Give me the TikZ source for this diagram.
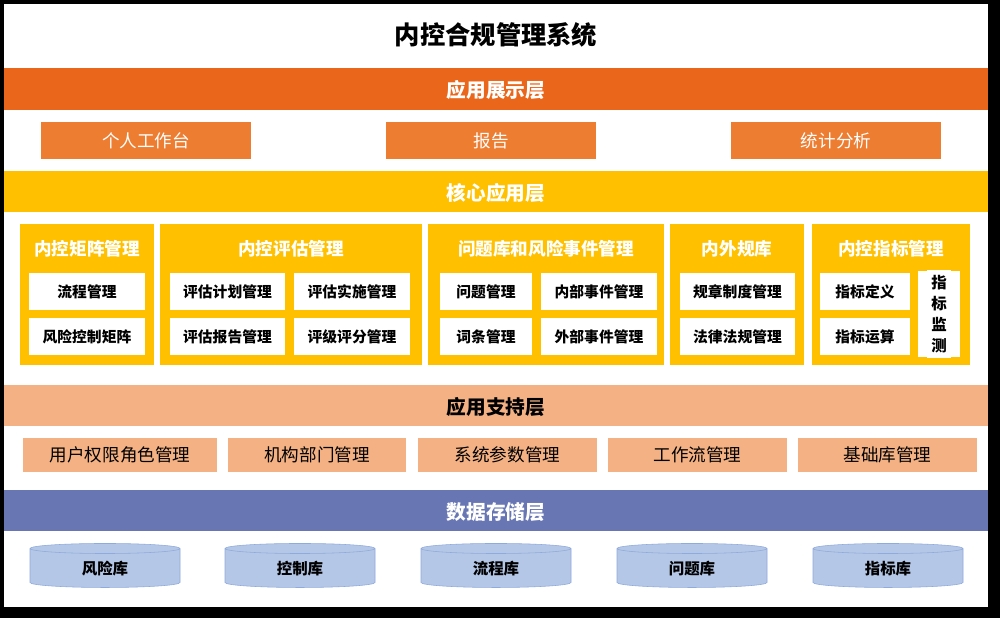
\documentclass[tikz,border=0pt]{standalone}
\usepackage{fontspec}
\setmainfont{Noto Sans CJK SC}
\usetikzlibrary{shapes.geometric}
\definecolor{showc}{HTML}{EA661B}
\definecolor{showbox}{HTML}{ED7D31}
\definecolor{corec}{HTML}{FFC000}
\definecolor{suppc}{HTML}{F4B183}
\definecolor{datac}{HTML}{6877B3}
\definecolor{dbfill}{HTML}{B4C7E7}
\definecolor{dbline}{HTML}{8FAADC}
\tikzset{
  bar/.style={draw=none,text=white,font=\bfseries\fontsize{14}{14}\selectfont},
  box/.style={draw=none,font=\fontsize{12.5}{12.5}\selectfont},
  sub/.style={fill=white,font=\bfseries\fontsize{10.5}{10.5}\selectfont},
  db/.style={cylinder,shape border rotate=90,aspect=0.18,draw=dbline,fill=dbfill,
    minimum width=150\px,minimum height=44\px,font=\bfseries\fontsize{11}{11}\selectfont}
}
\newlength{\px}\setlength{\px}{0.25mm}
\begin{document}
\begin{tikzpicture}[x=\px,y=-\px]
\fill[black] (0,0) rectangle (1000,618);
\fill[white] (4,4) rectangle (988,607);
\node[font=\bfseries\fontsize{18}{18}\selectfont] (title) at (496,35) {内控合规管理系统};
% layer bars
\fill[showc] (4,68) rectangle (988,110);
\node[bar] (show) at (496,90) {应用展示层};
\fill[corec] (4,171) rectangle (988,212);
\node[bar] (core) at (496,193) {核心应用层};
\fill[suppc] (4,385) rectangle (988,426);
\node[bar,text=black] (supp) at (496,407) {应用支持层};
\fill[datac] (4,490) rectangle (988,531);
\node[bar] (data) at (496,512) {数据存储层};
% display boxes
\foreach \x/\t/\n in {41/个人工作台/s1,386/报告/报表/s2,731/统计分析/s3}{
  \fill[showbox] (\x,122) rectangle ++(210,37);
  \node[box,text=white] (\n) at (\x+105,141) {\t};
}
% core groups
\foreach \a/\b/\t/\n in {20/154/内控矩阵管理/g1,160/422/内控评估管理/g2,428/664/问题库和风险事件管理/g3,670/804/内外规库/g4,812/970/内控指标管理/g5}{
  \fill[corec] (\a,224) rectangle (\b,365);
  \node[bar,font=\bfseries\fontsize{12.5}{12.5}\selectfont] (\n) at ({(\a+\b)/2},249) {\t};
}
\foreach \a/\b/\y/\t/\n in {29/145/273/流程管理/m1,29/145/318/风险控制矩阵/m2,
  170/285/273/评估计划管理/e1,294/410/273/评估实施管理/e2,170/285/318/评估报告管理/e3,294/410/318/评级评分管理/e4,
  440/532/273/问题管理/p1,541/657/273/内部事件管理/p2,440/532/318/词条管理/p3,541/657/318/外部事件管理/p4,
  680/795/273/规章制度管理/r1,680/795/318/法律法规管理/r2,820/910/273/指标定义/i1,820/910/318/指标运算/i2}{
  \fill[white] (\a,\y) rectangle (\b,\y+37);
  \node[sub] (\n) at ({(\a+\b)/2},\y+18.5) {\t};
}
\fill[white] (918,271) rectangle (960,357);
\node[sub,align=center,font=\bfseries\fontsize{11}{15}\selectfont] (i3) at (939,314) {指\\标\\监\\测};
% support boxes
\foreach \a/\b/\t/\n in {23/217/用户权限角色管理/u1,228/406/机构部门管理/u2,418/597/系统参数管理/u3,608/787/工作流管理/u4,798/977/基础库管理/u5}{
  \fill[suppc] (\a,438) rectangle (\b,472);
  \node[box] (\n) at ({(\a+\b)/2},455) {\t};
}
% databases
\foreach \x/\t/\n in {105/风险库/d1,300/控制库/d2,496/流程库/d3,692/问题库/d4,888/指标库/d5}{
  \node[db] (\n) at (\x,569) {\t};
}
\end{tikzpicture}
\end{document}
